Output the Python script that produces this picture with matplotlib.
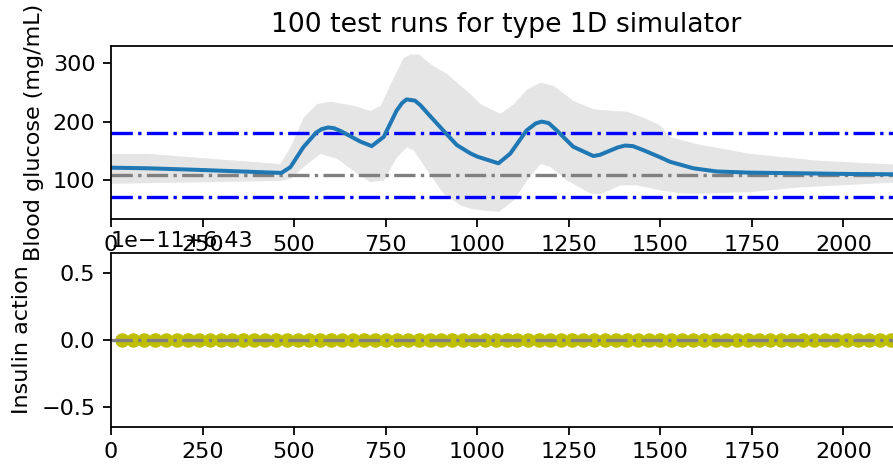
import numpy as np
import matplotlib.pyplot as plt

# mean blood glucose over 100 runs (minutes, mg/mL)
bg_t = [0, 100, 250, 400, 465, 490, 525, 560, 575, 593, 610, 630, 680, 712, 745,
        780, 795, 807, 830, 845, 862, 907, 944, 980, 1000, 1058, 1090, 1135, 1160,
        1176, 1195, 1217, 1262, 1317, 1335, 1354, 1385, 1404, 1425, 1454, 1499,
        1527, 1590, 1654, 1745, 1881, 2018, 2160]
bg_mean = [121, 120, 117, 113.5, 112, 122, 156, 181, 187, 190, 188.5, 183, 166, 158, 174,
           219, 232, 238, 236, 228, 216, 185, 160, 146, 140, 128.5, 145, 185, 197,
           200, 197.5, 185, 157, 141, 143, 148, 156, 159, 158, 151, 139,
           131, 120, 114.5, 112.5, 111.4, 110.2, 109.6]

# spread of the runs
band_up_t = [0, 100, 243, 400, 461, 489, 525, 562, 598, 662, 707, 735, 771, 798, 817,
             840, 872, 917, 980, 1008, 1062, 1099, 1135, 1172, 1208, 1262, 1317, 1372,
             1408, 1463, 1499, 1527, 1600, 1745, 1927, 2160]
band_up = [145.5, 145.5, 138.6, 131, 128, 157, 208, 231, 235, 228, 219, 228, 276, 310, 316,
           316, 299, 282, 248, 231, 214, 231, 256, 267.6, 262, 236, 222, 219,
           218, 205, 194, 174, 162, 145.5, 134, 126.5]
band_lo_t = [0, 461, 489, 525, 571, 616, 671, 707, 744, 780, 807, 826, 862, 907, 953,
             980, 1008, 1058, 1099, 1135, 1172, 1199, 1244, 1308, 1335, 1390, 1435,
             1499, 1563, 1609, 1745, 1881, 2160]
band_lo = [94.3, 99, 103, 123, 145.5, 137, 111.4, 97, 100, 139.7, 156.8, 151, 117, 77.3, 57,
           51.7, 48.8, 46, 66, 100, 128.5, 122.7, 100, 77.3, 76, 91.5, 91.5,
           83, 77.3, 77.3, 80, 88, 97]

band_t = np.union1d(band_up_t, band_lo_t)
upper = np.interp(band_t, band_up_t, band_up)
lower = np.interp(band_t, band_lo_t, band_lo)

hypo, hyper, target = 70, 180, 108

# insulin action
ins_t = np.arange(30, 2161, 30)
ins_val = np.full(len(ins_t), 6.43)
t_end = 2160

dpi = 160
fig = plt.figure(figsize=(893 / dpi, 467 / dpi), dpi=dpi)
ax1 = fig.add_axes([0.1243, 0.531, 0.8858, 0.371])
ax2 = fig.add_axes([0.1243, 0.0863, 0.8858, 0.371])

ax1.fill_between(band_t, lower, upper, color='gray', alpha=0.2, lw=0)
ax1.plot([0, t_end], [hyper, hyper], 'b-.', lw=1.5)
ax1.plot([0, t_end], [hypo, hypo], 'b-.', lw=1.5)
ax1.plot([0, t_end], [target, target], '-.', color='gray', lw=1.5)
ax1.plot(bg_t, bg_mean, color='tab:blue', lw=1.8)
ax1.set_xlim(0, t_end)
ax1.set_ylim(33, 330)
ax1.set_ylabel('Blood glucose (mg/mL)')
ax1.set_title('100 test runs for type 1D simulator')

ax2.plot(ins_t, ins_val, 'yo', ms=5.5)
ax2.plot([0, t_end], [6.43, 6.43], '-.', color='gray', lw=1.5)
ax2.set_xlim(0, t_end)
ax2.set_ylim(6.43 - 0.644e-11, 6.43 + 0.644e-11)
ax2.set_ylabel('Insulin action')

fig.savefig('out.png', dpi=dpi)
